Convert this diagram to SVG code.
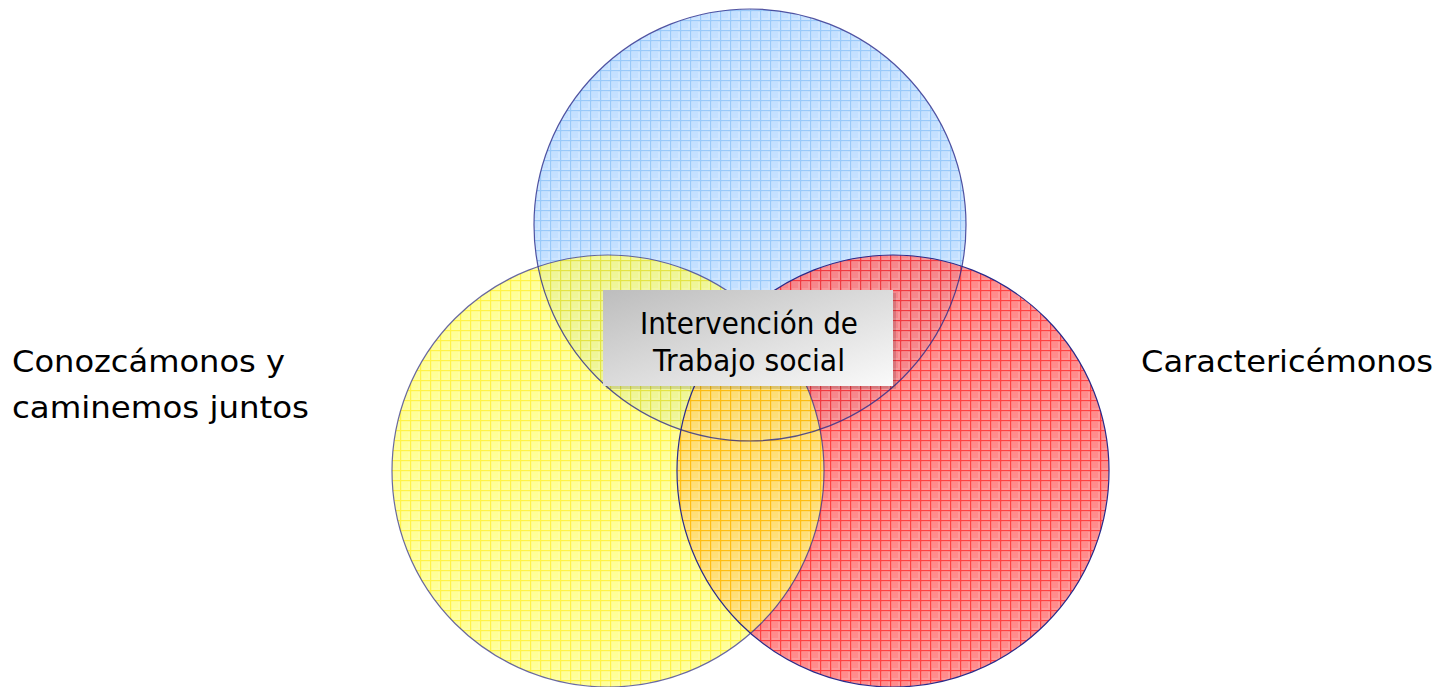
<svg xmlns="http://www.w3.org/2000/svg" width="1453" height="687" viewBox="0 0 1453 687">
<defs>
<pattern id="pBlue" width="10" height="10" patternUnits="userSpaceOnUse">
<rect width="10" height="10" fill="#cfe6ff"/>
<rect x="2" y="2" width="6" height="6" fill="#c4e0ff"/>
<path d="M0 0.5H10M0.5 0V10" stroke="#99c9f9" stroke-width="1.5"/>
</pattern>
<pattern id="pRed" width="10" height="10" patternUnits="userSpaceOnUse">
<rect width="10" height="10" fill="#ff8a8a"/>
<rect x="2" y="2" width="6" height="6" fill="#ff7878"/>
<path d="M0 0.5H10M0.5 0V10" stroke="#ff2020" stroke-width="1.6"/>
</pattern>
<pattern id="pYellow" width="10" height="10" patternUnits="userSpaceOnUse">
<rect width="10" height="10" fill="#ffff80"/>
<rect x="2" y="2" width="6" height="6" fill="#ffff70"/>
<path d="M0 0.5H10M0.5 0V10" stroke="#ffee00" stroke-width="1.5"/>
</pattern>
<linearGradient id="gBox" x1="0" y1="0" x2="1" y2="1">
<stop offset="0" stop-color="#bdbdbd"/>
<stop offset="1" stop-color="#fafafa"/>
</linearGradient>
</defs>
<style>
.lbl{font-family:"DejaVu Sans",Verdana,sans-serif;font-size:30px;fill:#000}
.ring{fill:none;stroke:#2a2a8a;stroke-width:1.2}
</style>
<rect width="1453" height="687" fill="#fff"/>
<g id="circle-blue">
<circle cx="750" cy="225" r="216" fill="url(#pBlue)"/>
</g>
<g id="circle-red">
<circle cx="893" cy="471" r="216" fill="url(#pRed)" fill-opacity="0.85"/>
</g>
<g id="circle-yellow">
<circle cx="608" cy="471" r="216" fill="url(#pYellow)" fill-opacity="0.72"/>
</g>
<g id="outlines">
<circle class="ring" cx="750" cy="225" r="216" stroke-opacity="0.8"/>
<circle class="ring" cx="893" cy="471" r="216"/>
<circle class="ring" cx="608" cy="471" r="216" stroke-opacity="0.7"/>
</g>
<g id="center-box">
<rect x="606" y="293" width="290" height="96" fill="#000" fill-opacity="0.12"/>
<rect x="603" y="290" width="290" height="96" fill="url(#gBox)"/>
<text class="lbl" x="640" y="334" font-size="29" textLength="218" lengthAdjust="spacingAndGlyphs">Intervención de</text>
<text class="lbl" x="653" y="371" font-size="29" textLength="192" lengthAdjust="spacingAndGlyphs">Trabajo social</text>
</g>
<g id="label-left">
<text class="lbl" x="12" y="372" textLength="273" lengthAdjust="spacingAndGlyphs">Conozcámonos y</text>
<text class="lbl" x="12" y="418" textLength="297" lengthAdjust="spacingAndGlyphs">caminemos juntos</text>
</g>
<g id="label-right">
<text class="lbl" x="1141" y="372" textLength="292" lengthAdjust="spacingAndGlyphs">Caractericémonos</text>
</g>
</svg>
